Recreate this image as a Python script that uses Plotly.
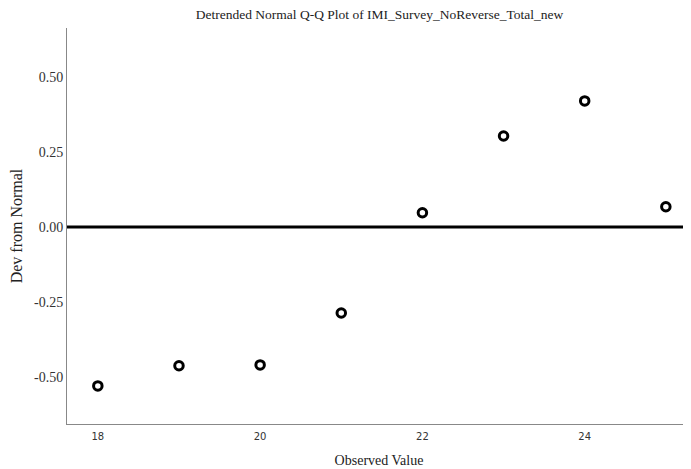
import plotly.graph_objects as go

observed = [18, 19, 20, 21, 22, 23, 24, 25]
dev_from_normal = [-0.53, -0.463, -0.46, -0.287, 0.047, 0.303, 0.42, 0.067]
y_ticks = [-0.50, -0.25, 0.00, 0.25, 0.50]
x_ticks = [18, 20, 22, 24]

serif = "Liberation Serif, Times New Roman, serif"

fig = go.Figure()
fig.add_trace(go.Scatter(
    x=observed, y=dev_from_normal, mode="markers",
    marker=dict(symbol="circle-open", size=8.5, color="black", line=dict(width=3, color="black")),
    showlegend=False,
))
fig.add_hline(y=0, line=dict(color="black", width=3))

# page body adds an 8px offset; figure sized to fit the 691x469 window
fig.update_layout(
    width=683, height=461,
    margin=dict(l=59, r=0, t=20, b=45, autoexpand=False),
    paper_bgcolor="white", plot_bgcolor="white",
    title=dict(text="Detrended Normal Q-Q Plot of IMI_Survey_NoReverse_Total_new",
               x=0.5439, xanchor="center", y=0.987, yanchor="middle",
               font=dict(family=serif, size=13.5, color="#222")),
    xaxis=dict(range=[17.62, 25.31], tickvals=x_ticks, ticktext=[str(v) for v in x_ticks],
               showgrid=False, zeroline=False, showline=True, linecolor="#888", linewidth=1,
               ticks="", ticklabelstandoff=3, tickfont=dict(family="DejaVu Sans", size=10, color="#333"),
               title=dict(text="Observed Value", font=dict(family=serif, size=14, color="#222"), standoff=14)),
    yaxis=dict(range=[-0.657, 0.663], tickvals=y_ticks, ticktext=[f"{v:.2f}" for v in y_ticks],
               showgrid=False, zeroline=False, showline=True, linecolor="#888", linewidth=1,
               ticks="", tickfont=dict(family=serif, size=14, color="#333"),
               title=dict(text="Dev from Normal", font=dict(family=serif, size=16, color="#222"), standoff=10)),
)
fig.write_html("out.html")
